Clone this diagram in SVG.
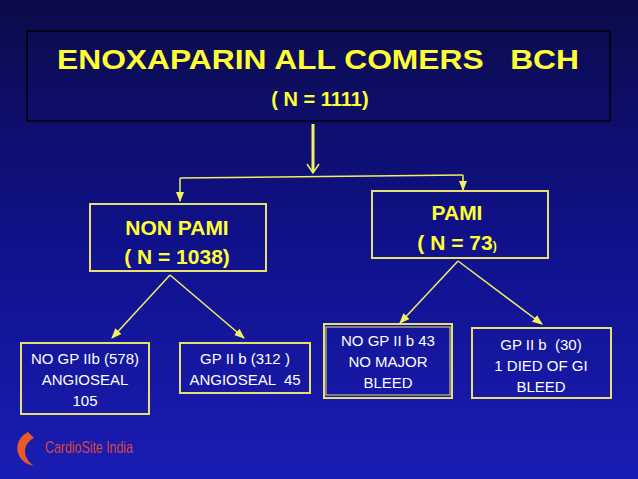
<svg xmlns="http://www.w3.org/2000/svg" width="638" height="479" viewBox="0 0 638 479">
<defs>
<linearGradient id="bg" x1="0" y1="0" x2="0" y2="1">
<stop offset="0" stop-color="#0b0b4a"/><stop offset="0.5" stop-color="#10118a"/><stop offset="1" stop-color="#1a1db4"/>
</linearGradient>
<marker id="ah" viewBox="0 0 10 10" refX="9" refY="5" markerWidth="7" markerHeight="7" orient="auto-start-reverse"><path d="M0,1 L10,5 L0,9 z" fill="#f2f060"/></marker>
<style>
.box{fill:none;stroke:#e6e070;stroke-width:2}
.c{stroke:#f2f060;stroke-width:1.5;fill:none}
.h{font-family:"Liberation Sans",Arial,sans-serif;font-weight:bold;fill:#ffff33;text-anchor:middle}
.l{font-family:"Liberation Sans",Arial,sans-serif;fill:#ffffff;font-size:15px;text-anchor:middle}
</style>
</defs>
<rect width="638" height="479" fill="url(#bg)"/>
<g id="title"><rect class="box" x="27" y="31" width="583" height="90" style="stroke:#000;stroke-width:1.5"/>
<text class="h" x="318" y="69" font-size="28" textLength="522" lengthAdjust="spacingAndGlyphs" xml:space="preserve">ENOXAPARIN ALL COMERS   BCH</text>
<text class="h" x="320" y="106" font-size="20">( N = 1111)</text></g>
<g id="connectors">
<line x1="313" y1="124" x2="313" y2="172" stroke="#f2f060" stroke-width="3"/>
<path d="M307,164 L313,173 L319,164" class="c"/>
<path d="M180,178 L463,175" class="c"/>
<line class="c" x1="180" y1="178" x2="180" y2="201" marker-end="url(#ah)"/>
<line class="c" x1="463" y1="175" x2="463" y2="190" marker-end="url(#ah)"/>
<line class="c" x1="170" y1="275" x2="112" y2="338" marker-end="url(#ah)"/>
<line class="c" x1="170" y1="275" x2="244" y2="338" marker-end="url(#ah)"/>
<line class="c" x1="458" y1="261" x2="400" y2="323" marker-end="url(#ah)"/>
<line class="c" x1="458" y1="261" x2="542" y2="324" marker-end="url(#ah)"/>
</g>
<g id="nonpami"><rect class="box" x="90" y="204" width="176" height="67"/>
<text class="h" x="177" y="235" font-size="21">NON PAMI</text>
<text class="h" x="177" y="264" font-size="21">( N = 1038)</text></g>
<g id="pami"><rect class="box" x="372" y="191" width="176" height="67"/>
<text class="h" x="457" y="220" font-size="21">PAMI</text>
<text class="h" x="457" y="250" font-size="21">( N = 73<tspan font-size="12">)</tspan></text></g>
<g id="leaf1"><rect class="box" x="21" y="343" width="128" height="71"/>
<text class="l" x="85" y="364">NO GP IIb (578)</text><text class="l" x="85" y="385">ANGIOSEAL</text><text class="l" x="85" y="406">105</text></g>
<g id="leaf2"><rect class="box" x="180" y="343" width="130" height="50"/>
<text class="l" x="245" y="364">GP II b (312 )</text><text class="l" x="245" y="385" xml:space="preserve">ANGIOSEAL  45</text></g>
<g id="leaf3"><rect class="box" x="324" y="324" width="128" height="74"/><rect class="box" x="326" y="327" width="124" height="68" style="stroke-width:1"/>
<text class="l" x="388" y="346">NO GP II b 43</text><text class="l" x="388" y="367">NO MAJOR</text><text class="l" x="388" y="388">BLEED</text></g>
<g id="leaf4"><rect class="box" x="472" y="328" width="139" height="70"/>
<text class="l" x="541" y="350" xml:space="preserve">GP II b  (30)</text><text class="l" x="541" y="371">1 DIED OF GI</text><text class="l" x="541" y="392">BLEED</text></g>
<g id="logo"><path d="M28,432 C12,440 14,462 34,466 C22,458 22,444 34,438 z" fill="#e85a2a"/>
<text x="45" y="453" font-family="Liberation Sans,Arial,sans-serif" font-size="17" fill="#d8463c" textLength="88" lengthAdjust="spacingAndGlyphs">CardioSite India</text></g>
</svg>
